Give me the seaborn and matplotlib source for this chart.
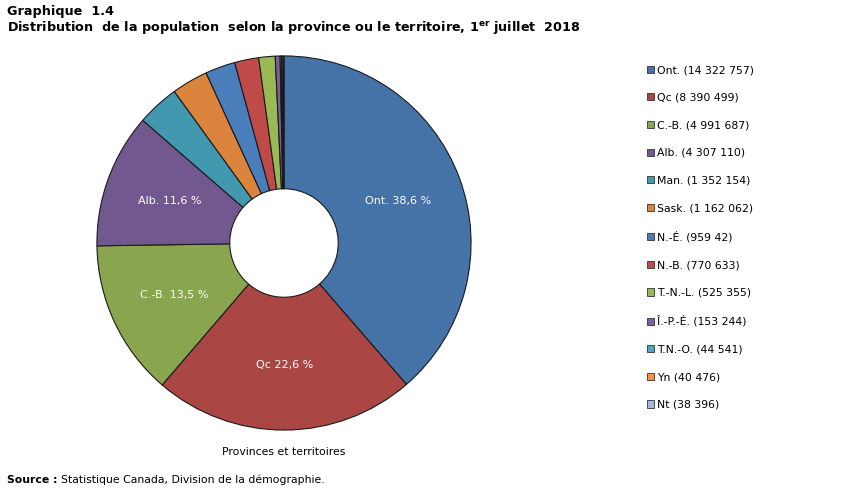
import numpy as np
import seaborn as sns
import matplotlib.pyplot as plt
from matplotlib.patches import Patch

# data (population, 1 July 2018)
regions = ["Ont.", "Qc", "C.-B.", "Alb.", "Man.", "Sask.", "N.-É.", "N.-B.",
           "T.-N.-L.", "Î.-P.-É.", "T.N.-O.", "Yn", "Nt"]
population = [14322757, 8390499, 4991687, 4307110, 1352154, 1162062, 959942,
              770633, 525355, 153244, 44541, 40476, 38396]
legend_counts = ["14 322 757", "8 390 499", "4 991 687", "4 307 110", "1 352 154",
                 "1 162 062", "959 42", "770 633", "525 355", "153 244",
                 "44 541", "40 476", "38 396"]
colors = ["#4572A7", "#AA4643", "#89A54E", "#71588F", "#4198AF", "#DB843D",
          "#4A7EBB", "#BE4B48", "#98B954", "#7D60A0", "#46AAC5", "#F69240",
          "#A5B9DB"]

sns.set_theme(style="white")
plt.rcParams['font.family'] = ['DejaVu Sans']
plt.rcParams['mathtext.fontset'] = 'dejavusans'
plt.rcParams['text.color'] = 'black'
palette = sns.color_palette(colors)

W, H = 851, 493
fig = plt.figure(figsize=(W / 100, H / 100), dpi=100)
fig.patch.set_facecolor("white")

# pie: centre (284, 243) px, radius 188 px
cx, cy, r = 284, 243, 188
ax = fig.add_axes([(cx - r) / W, (H - cy - r) / H, 2 * r / W, 2 * r / H])

names = iter(regions)
def pct_label(p):
    name = next(names)
    if p < 10:
        return ""
    return name + " " + f"{p:.1f}".replace(".", ",") + " %"

wedges, _, autotexts = ax.pie(population, colors=palette, startangle=90,
                              counterclock=False, autopct=pct_label,
                              pctdistance=0.65,
                              wedgeprops=dict(width=0.71, edgecolor="#1a1a1a",
                                              linewidth=0.8),
                              textprops=dict(color="white", fontsize=8))
ax.set_xlim(-1.005, 1.005)
ax.set_ylim(-1.005, 1.005)
ax.set_aspect("equal")
ax.axis("off")

# legend
handles = [Patch(facecolor=c, edgecolor="#333333", linewidth=0.6) for c in palette]
labels = [f"{n} ({c})" for n, c in zip(regions, legend_counts)]
fig.legend(handles, labels, loc="upper left", bbox_to_anchor=(647 / W, 1 - 65 / H),
           frameon=False, fontsize=7.8, handlelength=0.65, handleheight=0.65,
           handletextpad=0.3, labelspacing=1.63, borderaxespad=0, borderpad=0)

# titles and notes
fig.text(7 / W, 1 - 11 / H, "Graphique  1.4", fontsize=9.2, fontweight="bold",
         va="center", ha="left")
fig.text(7 / W, 1 - 28 / H,
         r"Distribution  de la population  selon la province ou le territoire, 1$^{\mathbf{er}}$ juillet  2018",
         fontsize=9.2, fontweight="bold", va="center", ha="left")
fig.text(cx / W, 1 - 452 / H, "Provinces et territoires", fontsize=7.8,
         va="center", ha="center")

src = fig.text(7 / W, 1 - 480 / H, "Source :", fontsize=7.8, fontweight="bold",
               va="center", ha="left")
renderer = fig.canvas.get_renderer()
bb = src.get_window_extent(renderer)
fig.text((bb.x1 + 3) / W, 1 - 480 / H, "Statistique Canada, Division de la démographie.",
         fontsize=7.8, va="center", ha="left")

fig.savefig("out.png", dpi=100, facecolor="white")
